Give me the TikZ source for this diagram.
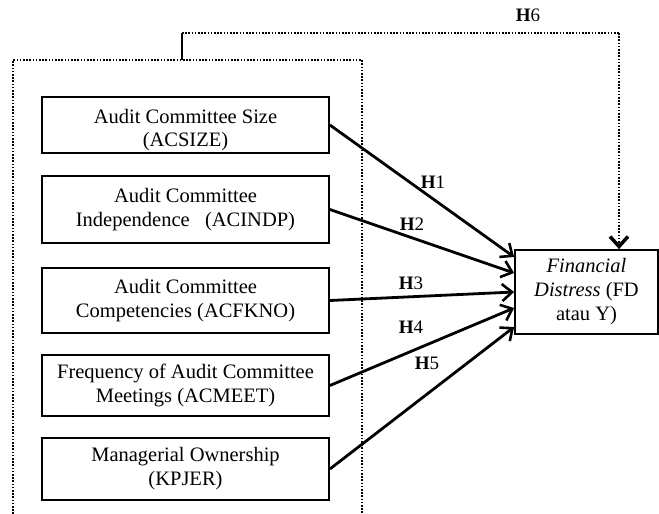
\documentclass[tikz,border=0pt]{standalone}
\usepackage{fontspec}
\setmainfont{Liberation Serif}
\usetikzlibrary{arrows.meta}
\tikzset{
  varbox/.style={draw, line width=1.8pt, minimum width=287pt, align=center,
    inner sep=0pt, font=\fontsize{20.5}{24}\selectfont},
  hyp/.style={font=\fontsize{19}{20}\selectfont},
  path/.style={line width=2.8pt, -{Straight Barb[length=10pt,width=17pt,line width=2.6pt]}},
  frame/.style={line width=2pt, dash pattern=on 1.6pt off 1.6pt}
}
\begin{document}
\begin{tikzpicture}[x=1pt,y=-1pt]
        \useasboundingbox (0,0) rectangle (659,514);

        % independent variables
        \node[varbox, minimum height=56pt] (acsize) at (185.5,125) {\rule{0pt}{24pt}Audit Committee Size\\[-1pt](ACSIZE)};
        \node[varbox, minimum height=67pt] (acindp) at (185.5,209.5) {Audit Committee\\Independence \ \ (ACINDP)};
        \node[varbox, minimum height=65pt] (acfkno) at (185.5,300.5) {Audit Committee\\Competencies (ACFKNO)};
        \node[varbox, minimum height=61pt] (acmeet) at (185.5,385.5) {Frequency of Audit Committee\\Meetings (ACMEET)};
        \node[varbox, minimum height=62pt] (kpjer) at (185.5,469) {Managerial Ownership\\(KPJER)};

        % dependent variable
        \node[varbox, minimum width=143pt, minimum height=84pt] (fd) at (586.5,292) {\textit{Financial}\\\textit{Distress} (FD\\atau Y)};

        % dotted group
        \draw[frame] (13,514) -- (13,60) -- (362,60) -- (362,514);
        \coordinate (grp) at (182,60);
        \coordinate (bend) at (182,33);
        \coordinate (corner) at (619,33);
        \draw[line width=2pt] (grp) -- (bend);
        \draw[frame] (bend) -- (corner);
        \draw[frame, -{Straight Barb[length=10pt,width=18pt,line width=3.5pt]}] (corner) -- ([xshift=32.5pt]fd.north);

        % hypotheses
        \draw[path] (acsize.east) -- ([yshift=35pt]fd.west);
        \draw[path] (acindp.east) -- ([yshift=19pt]fd.west);
        \draw[path] (acfkno.east) -- (fd.west);
        \draw[path] (acmeet.east) -- ([yshift=-16pt]fd.west);
        \draw[path] (kpjer.east) -- ([yshift=-35pt]fd.west);

        \node[hyp] (h1) at (433,182) {\textbf{H}1};
        \node[hyp] (h2) at (412,224) {\textbf{H}2};
        \node[hyp] (h3) at (411,283) {\textbf{H}3};
        \node[hyp] (h4) at (411,327) {\textbf{H}4};
        \node[hyp] (h5) at (427,363) {\textbf{H}5};
        \node[hyp] (h6) at (528,15) {\textbf{H}6};
    \end{tikzpicture}
\end{document}
